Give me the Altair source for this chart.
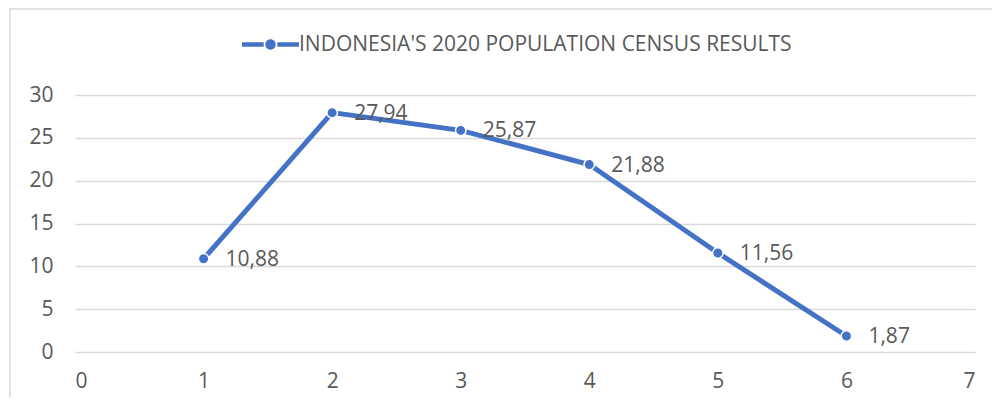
import altair as alt
import pandas as pd

groups = [1, 2, 3, 4, 5, 6]
values = [10.88, 27.94, 25.87, 21.88, 11.56, 1.87]
series_name = "INDONESIA'S 2020 POPULATION CENSUS RESULTS"
x_ticks = [0, 1, 2, 3, 4, 5, 6, 7]
y_ticks = [0, 5, 10, 15, 20, 25, 30]

df = pd.DataFrame({"x": groups, "v": values, "series": [series_name] * len(groups)})

BLUE = "#4472C4"
GRAY = "#595959"
FONT = "Open Sans"
FS = 21

W, H = 900, 257
PAD = {"left": 67, "top": 87, "right": 17, "bottom": 46}

legend_path = (
    "M-2.85,-0.22 L-0.68,-0.22 L-0.68,0.22 L-2.85,0.22 Z "
    "M0.68,-0.22 L2.85,-0.22 L2.85,0.22 L0.68,0.22 Z "
    "M0.52,0 A0.52,0.52 0 1,1 -0.52,0 A0.52,0.52 0 1,1 0.52,0 Z"
)

xs = alt.X("x:Q", scale=alt.Scale(domain=[0, 7], nice=False),
           axis=alt.Axis(values=x_ticks, grid=False, title=None, labelPadding=18))
ys = alt.Y("v:Q", scale=alt.Scale(domain=[0, 30], nice=False),
           axis=alt.Axis(values=y_ticks, title=None, labelPadding=22))
color = alt.Color("series:N", scale=alt.Scale(range=[BLUE]),
                  legend=alt.Legend(title=None, orient="none", legendX=185, legendY=-61,
                                    symbolType=legend_path, symbolSize=400,
                                    symbolFillColor=BLUE, symbolStrokeWidth=0,
                                    labelOffset=18, labelFontSize=FS, labelFont=FONT,
                                    labelColor=GRAY, labelLimit=0))

base = alt.Chart(df)

line = base.mark_line(strokeWidth=5).encode(x=xs, y=ys, color=color)
pts = base.mark_point(filled=True, size=110, opacity=1, stroke="white", strokeWidth=1.5,
                      fill=BLUE, shape="circle").encode(x=xs, y=ys)
labels = base.mark_text(align="left", baseline="middle", dx=22, dy=1, fontSize=FS,
                        font=FONT, color=GRAY).transform_calculate(
    lab="replace(format(datum.v, '.2f'), '.', ',')"
).encode(x=xs, y=ys, text="lab:N")

frame_data = alt.Data(values=[{"a": 1}])
frame_v = alt.Chart(frame_data).mark_rule(color="#d9d9d9", strokeWidth=1.5).encode(
    x=alt.value(-65), y=alt.value(-87), y2=alt.value(H + PAD["bottom"]))
frame_h = alt.Chart(frame_data).mark_rule(color="#d9d9d9", strokeWidth=1.5).encode(
    x=alt.value(-65), x2=alt.value(W + PAD["right"]), y=alt.value(-86))

chart = alt.layer(frame_v, frame_h, line, pts, labels).properties(
    width=W, height=H, autosize=alt.AutoSizeParams(type="none"), padding=PAD
).configure_view(stroke=None).configure_axis(
    domain=False, ticks=False, gridColor="#d9d9d9", gridWidth=1.3,
    labelFont=FONT, labelFontSize=FS, labelColor=GRAY
)

chart.save("out.html", embed_options={"renderer": "svg", "actions": False})
